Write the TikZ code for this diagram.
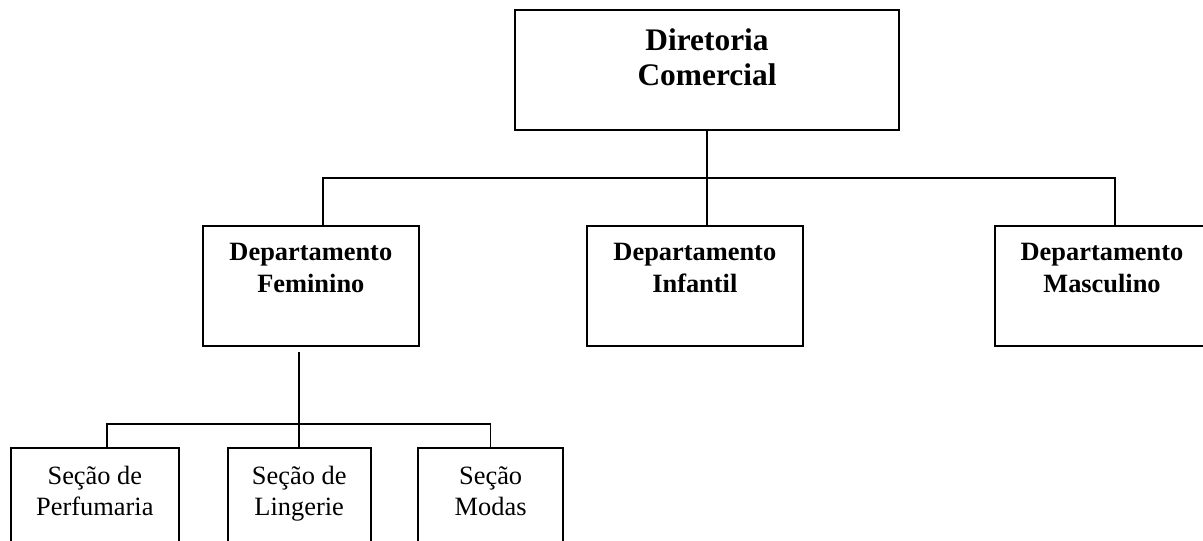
\documentclass[tikz,border=0pt]{standalone}
\usepackage{fontspec}
\setmainfont{Liberation Serif}
\begin{document}
\begin{tikzpicture}[x=1pt,y=-1pt,
  box/.style={draw,line width=2pt,rectangle,inner sep=0pt},
  conn/.style={line width=1.6pt},
  toptext/.style={font=\fontsize{31.4}{35}\selectfont\bfseries,align=center,anchor=base,inner sep=0pt},
  depttext/.style={font=\fontsize{26.4}{32.7}\selectfont\bfseries,align=center,anchor=base,inner sep=0pt},
  sectext/.style={font=\fontsize{26.4}{31}\selectfont,align=center,anchor=base,inner sep=0pt}]
\useasboundingbox (0,0) rectangle (1203,541);
\clip (0,0) rectangle (1203,541);

% boxes
\node[box,minimum width=384pt,minimum height=120pt] (dc) at (707,70) {};
\node[box,minimum width=216.3pt,minimum height=120pt] (dfem) at (310.85,285.7) {};
\node[box,minimum width=216.3pt,minimum height=120pt] (dinf) at (694.85,285.7) {};
\node[box,minimum width=240.6pt,minimum height=120pt] (dmas) at (1115,285.7) {};
\node[box,minimum width=168.3pt,minimum height=120pt] (sperf) at (94.85,508) {};
\node[box,minimum width=143pt,minimum height=120pt] (sling) at (299.2,508) {};
\node[box,minimum width=144.7pt,minimum height=120pt] (smod) at (490.65,508) {};

% labels (anchored at the baseline of the last line)
\node[toptext] (tdc) at (707,85) {Diretoria\\Comercial};
\node[depttext] (tfem) at (310.85,292.7) {Departamento\\Feminino};
\node[depttext] (tinf) at (694.85,292.7) {Departamento\\Infantil};
\node[depttext] (tmas) at (1102,292.7) {Departamento\\Masculino};
\node[sectext] (tperf) at (94.85,515) {Seção de\\Perfumaria};
\node[sectext] (tling) at (299.2,515) {Seção de\\Lingerie};
\node[sectext] (tmod) at (490.65,515) {Seção\\Modas};

% connectors
\coordinate (femtop) at (323,225.7);
\coordinate (perftop) at (106.7,448);
\coordinate (fembot) at (299.2,352);
\draw[conn] (dc.south) -- (dc.south |- dinf.north);
\draw[conn] (femtop) -- ++(0,-48) -| (dmas.north);
\draw[conn] (fembot) -- (sling.north);
\draw[conn] (perftop) -- ++(0,-24) -| (smod.north);
\end{tikzpicture}
\end{document}
